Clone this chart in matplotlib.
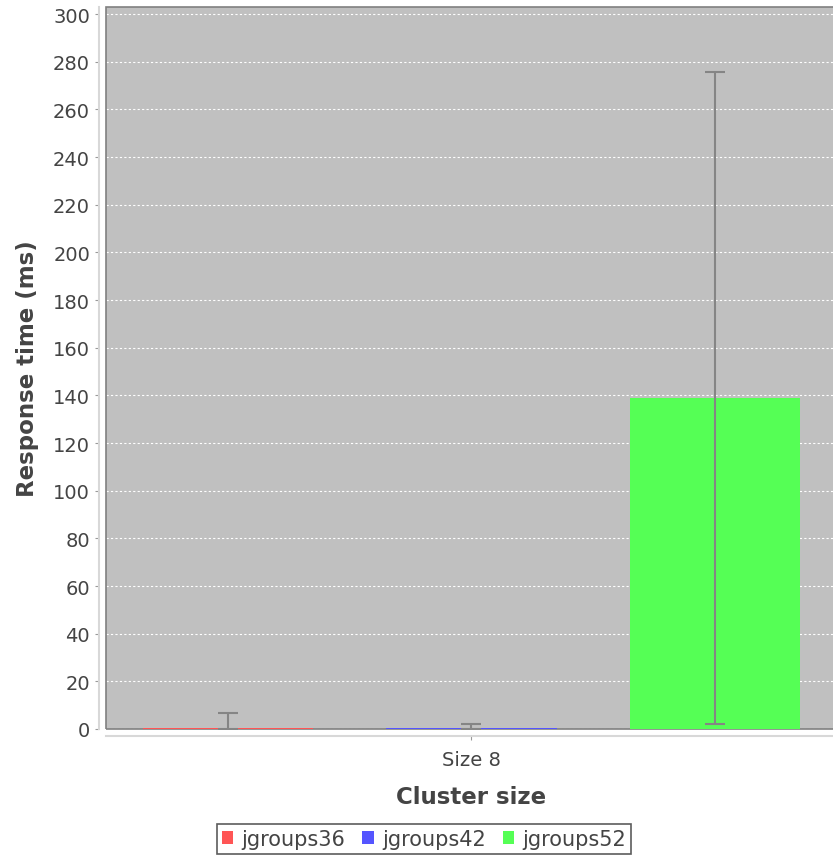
import matplotlib
matplotlib.use("Agg")
import matplotlib.pyplot as plt
from matplotlib.patches import Rectangle, Patch

series = ["jgroups36", "jgroups42", "jgroups52"]
means = [0.6, 0.4, 138.9]
err_low = [0.0, 0.0, 2.1]
err_high = [6.7, 2.0, 275.7]
colors = ["#FF5555", "#5555FF", "#55FF55"]
category = "Size 8"

fig = plt.figure(figsize=(8.33, 8.62), dpi=100)
ax = fig.add_axes([106/833, 1-730/862, 731/833, 722/862])
ax.set_facecolor("#C0C0C0")

xs = list(range(len(series)))
ax.bar(xs, means, width=0.7, color=colors, zorder=5, clip_on=False)
lower = [m - lo for m, lo in zip(means, err_low)]
upper = [hi - m for m, hi in zip(means, err_high)]
ax.errorbar(xs, means, yerr=[lower, upper], fmt="none", ecolor="#858585",
            elinewidth=1.5, capsize=7, capthick=1.5, zorder=6)

ax.set_xlim(-0.5, 2.5)
ax.set_ylim(0, 303)
ax.set_yticks(range(0, 301, 20))
ax.set_xticks([1])
ax.set_xticklabels([category])
ax.yaxis.grid(True, color="white", linestyle=(0, (2, 2)), linewidth=0.8)
ax.set_axisbelow(True)

for s in ["top", "right"]:
    ax.spines[s].set_visible(False)
ax.spines["left"].set_position(("outward", 5))
ax.spines["bottom"].set_position(("outward", 5))
ax.spines["left"].set_color("#D8D8D8")
ax.spines["bottom"].set_color("#D8D8D8")
ax.spines["left"].set_linewidth(1.5)
ax.spines["bottom"].set_linewidth(1.5)
ax.add_patch(Rectangle((0, 0), 1, 1, transform=ax.transAxes, fill=False,
                       edgecolor="#808080", linewidth=1.2, clip_on=False, zorder=4))
ax.tick_params(colors="#444444", labelsize=14, length=3, width=0.8)
ax.tick_params(axis="both", color="#999999")
ax.tick_params(axis="x", pad=7)

ax.set_ylabel("Response time (ms)", fontsize=16.5, fontweight="bold", color="#444444", labelpad=10)
ax.set_xlabel("Cluster size", fontsize=16.5, fontweight="bold", color="#444444", labelpad=12)

handles = [Patch(facecolor=c, edgecolor="none") for c in colors]
leg = fig.legend(handles, series, loc="center", bbox_to_anchor=(424/833, 1-840/862),
                 ncol=3, fontsize=15, frameon=True, fancybox=False,
                 handlelength=0.55, handleheight=0.55, handletextpad=0.4,
                 columnspacing=0.8, borderpad=0.25, borderaxespad=0,
                 labelcolor="#444444")
leg.get_frame().set_edgecolor("#333333")
leg.get_frame().set_linewidth(1.2)

fig.savefig("out.png", dpi=100)
